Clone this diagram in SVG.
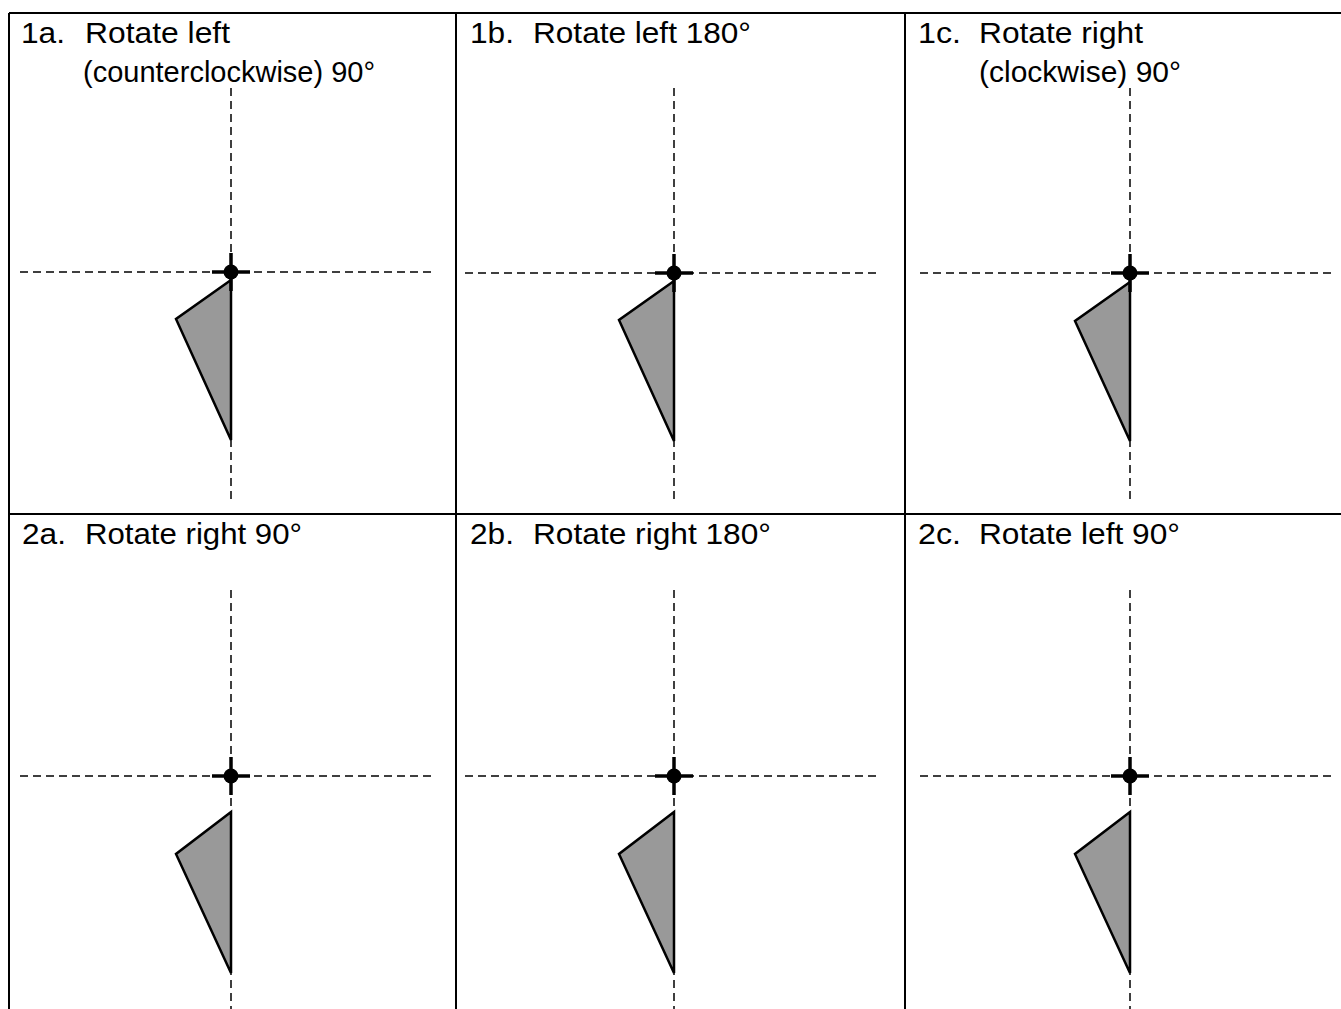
<svg xmlns="http://www.w3.org/2000/svg" width="1341" height="1009" viewBox="0 0 1341 1009">
<style>
.grid{stroke:#000;stroke-width:2;fill:none}
.dash{stroke:#000;stroke-width:1.5;stroke-dasharray:8 5;fill:none}
.arm{stroke:#000;stroke-width:3.5}
.tri{fill:#999;stroke:#000;stroke-width:2.5;stroke-linejoin:miter}
.lbl{font-family:"Liberation Sans",Arial,sans-serif;font-size:29px;fill:#000}
</style>
<defs>
<g id="cross">
<line class="arm" x1="-19" y1="0" x2="19" y2="0"/>
<line class="arm" x1="0" y1="-19" x2="0" y2="19"/>
<circle r="7.5" fill="#000"/>
</g>
</defs>
<rect width="1341" height="1009" fill="#fff"/>
<g id="table">
<path class="grid" d="M9,13 H1341 M9,13 V1009 M456,13 V1009 M905,13 V1009 M9,514 H1341"/>
</g>
<g id="cell-1a">
<text class="lbl" x="21" y="43" textLength="44" lengthAdjust="spacingAndGlyphs">1a.</text>
<text class="lbl" x="85" y="43" textLength="145" lengthAdjust="spacingAndGlyphs">Rotate left</text>
<text class="lbl" x="83" y="82">(counterclockwise) 90°</text>
<line class="dash" x1="231" y1="88" x2="231" y2="502"/>
<line class="dash" x1="20" y1="272" x2="436" y2="272"/>
<polygon class="tri" points="231,280 176,319 231,440"/>
<use href="#cross" x="231" y="272"/>
</g>
<g id="cell-1b">
<text class="lbl" x="470" y="43" textLength="44" lengthAdjust="spacingAndGlyphs">1b.</text>
<text class="lbl" x="533" y="43" textLength="218" lengthAdjust="spacingAndGlyphs">Rotate left 180°</text>
<line class="dash" x1="674" y1="88" x2="674" y2="502"/>
<line class="dash" x1="465" y1="273" x2="881" y2="273"/>
<polygon class="tri" points="674,281 619,320 674,441"/>
<use href="#cross" x="674" y="273"/>
</g>
<g id="cell-1c">
<text class="lbl" x="918" y="43" textLength="43" lengthAdjust="spacingAndGlyphs">1c.</text>
<text class="lbl" x="979" y="43" textLength="164" lengthAdjust="spacingAndGlyphs">Rotate right</text>
<text class="lbl" x="979" y="82" textLength="202" lengthAdjust="spacingAndGlyphs">(clockwise) 90°</text>
<line class="dash" x1="1130" y1="88" x2="1130" y2="502"/>
<line class="dash" x1="920" y1="273" x2="1336" y2="273"/>
<polygon class="tri" points="1130,282 1075,321 1130,441"/>
<use href="#cross" x="1130" y="273"/>
</g>
<g id="cell-2a">
<text class="lbl" x="22" y="544" textLength="44" lengthAdjust="spacingAndGlyphs">2a.</text>
<text class="lbl" x="85" y="544" textLength="217" lengthAdjust="spacingAndGlyphs">Rotate right 90°</text>
<line class="dash" x1="231" y1="590" x2="231" y2="1009"/>
<line class="dash" x1="20" y1="776" x2="436" y2="776"/>
<polygon class="tri" points="231,812 176,854 231,973"/>
<use href="#cross" x="231" y="776"/>
</g>
<g id="cell-2b">
<text class="lbl" x="470" y="544" textLength="44" lengthAdjust="spacingAndGlyphs">2b.</text>
<text class="lbl" x="533" y="544" textLength="238" lengthAdjust="spacingAndGlyphs">Rotate right 180°</text>
<line class="dash" x1="674" y1="590" x2="674" y2="1009"/>
<line class="dash" x1="465" y1="776" x2="881" y2="776"/>
<polygon class="tri" points="674,812 619,854 674,973"/>
<use href="#cross" x="674" y="776"/>
</g>
<g id="cell-2c">
<text class="lbl" x="918" y="544" textLength="43" lengthAdjust="spacingAndGlyphs">2c.</text>
<text class="lbl" x="979" y="544" textLength="201" lengthAdjust="spacingAndGlyphs">Rotate left 90°</text>
<line class="dash" x1="1130" y1="590" x2="1130" y2="1009"/>
<line class="dash" x1="920" y1="776" x2="1336" y2="776"/>
<polygon class="tri" points="1130,812 1075,854 1130,973"/>
<use href="#cross" x="1130" y="776"/>
</g>
</svg>
